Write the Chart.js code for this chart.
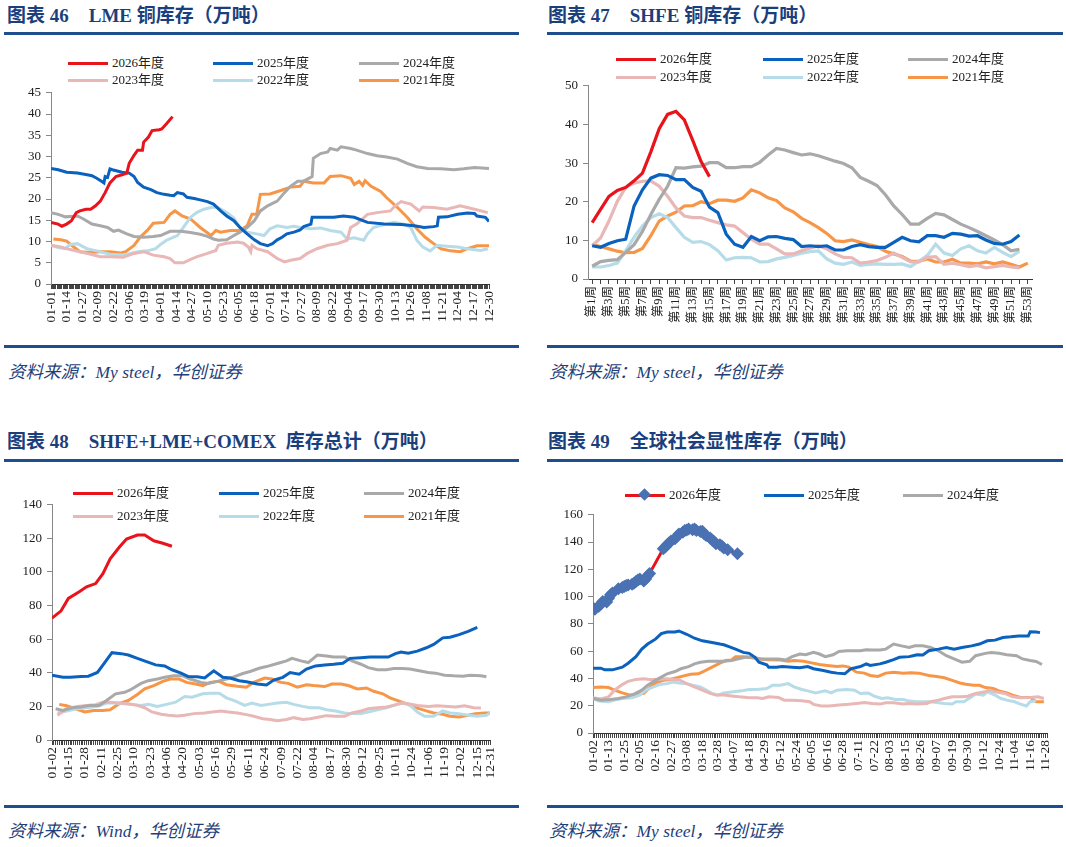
<!DOCTYPE html>
<html lang="zh">
<head>
<meta charset="UTF-8">
<title>铜库存</title>
<script src="https://cdn.jsdelivr.net/npm/chart.js"></script>
<style>
    body { margin: 0; width: 1066px; height: 847px; position: relative; overflow: hidden; background: #fff;
           font-family: "Liberation Serif", "Noto Sans CJK SC", serif; }
    .title { position: absolute; font-weight: bold; font-size: 19px; line-height: 24px; color: #1b3f7d; white-space: nowrap; }
    .title .gap { display: inline-block; width: 20px; }
    .rule { position: absolute; height: 2.5px; background: #1f4e8e; }
    .src { position: absolute; font-style: italic; font-size: 17.5px; line-height: 22px; color: #1f3f7a; white-space: nowrap; }
    .item { position: absolute; display: flex; align-items: center; font-size: 13px; line-height: 16px; color: #222; white-space: nowrap; z-index: 2; }
    .swatch { width: 40px; height: 3px; margin-right: 4px; position: relative; }
    .swatch .dia { position: absolute; left: 15px; top: -4px; width: 9px; height: 9px; transform: rotate(45deg); }
    canvas { position: absolute; }
</style>
</head>
<body>

<div class="title" style="left:7px; top:4px;">图表 46<span class="gap"></span>LME 铜库存（万吨）</div>
<div class="rule" style="left:4px; top:32px; width:515px;"></div>
<div class="title" style="left:548px; top:4px;">图表 47<span class="gap"></span>SHFE 铜库存（万吨）</div>
<div class="rule" style="left:547px; top:32px; width:516px;"></div>
<div class="rule" style="left:4px; top:345px; width:515px;"></div>
<div class="rule" style="left:547px; top:345px; width:516px;"></div>
<div class="src" style="left:8px; top:361px;">资料来源：My steel，华创证券</div>
<div class="src" style="left:549px; top:361px;">资料来源：My steel，华创证券</div>

<div class="title" style="left:7px; top:430px;">图表 48<span class="gap"></span>SHFE+LME+COMEX&nbsp; 库存总计（万吨）</div>
<div class="rule" style="left:4px; top:459px; width:515px;"></div>
<div class="title" style="left:548px; top:430px;">图表 49<span class="gap"></span>全球社会显性库存（万吨）</div>
<div class="rule" style="left:547px; top:459px; width:516px;"></div>
<div class="rule" style="left:4px; top:805px; width:515px;"></div>
<div class="rule" style="left:547px; top:805px; width:516px;"></div>
<div class="src" style="left:8px; top:820px;">资料来源：Wind，华创证券</div>
<div class="src" style="left:549px; top:820px;">资料来源：My steel，华创证券</div>

<canvas id="lmeChart" width="530" height="260" style="left:0; top:80px;"></canvas>
<canvas id="shfeChart" width="526" height="267" style="left:540px; top:73px;"></canvas>
<canvas id="totalChart" width="530" height="304" style="left:0; top:492px;"></canvas>
<canvas id="globalChart" width="526" height="294" style="left:540px; top:502px;"></canvas>

<script>
    // ---- Data (x = trading-day / calendar-day index, y = 万吨) ----
    const seriesNames = ['2026年度', '2025年度', '2024年度', '2023年度', '2022年度', '2021年度'];

    // Figure 46: LME, calendar days, label every 13 days
    const lmeTickLabels = ['01-01','01-14','01-27','02-09','02-22','03-06','03-19','04-01','04-14','04-27','05-10','05-23','06-05','06-18','07-01','07-14','07-27','08-09','08-22','09-04','09-17','09-30','10-13','10-26','11-08','11-21','12-04','12-17','12-30'];
    const lme2026 = [[0,14.5],[6,14.1],[9,13.6],[13,14.1],[17,14.9],[21,16.8],[24,17.2],[29,17.6],[33,17.6],[37,18.4],[41,19.5],[45,21.5],[49,23.8],[54,25.3],[59,25.7],[63,26.1],[65,28.4],[69,30.3],[72,31.5],[76,31.5],[77,33.4],[81,34.6],[84,36.1],[90,36.3],[92,36.5],[96,37.7],[101,39.4]];
    const lme2025 = [[0,27.2],[6,26.9],[13,26.3],[22,26.1],[30,25.7],[34,25.5],[38,24.9],[42,24.2],[44,23.8],[45,25.3],[47,25.1],[49,27.1],[51,26.9],[55,26.6],[59,26.3],[65,26.1],[69,25.3],[72,23.9],[77,22.8],[83,22.2],[88,21.5],[94,21.1],[99,20.9],[102,20.8],[105,21.5],[110,21.2],[113,20.4],[119,20.1],[124,19.8],[130,19.4],[135,18.8],[141,17.2],[146,16.0],[152,14.9],[157,13.3],[163,11.8],[169,10.4],[174,9.5],[180,9.0],[184,9.5],[188,10.4],[192,11.0],[196,11.8],[202,12.2],[207,12.7],[210,13.5],[216,14.1],[217,15.7],[224,15.7],[235,15.7],[243,16.0],[252,15.7],[263,14.5],[277,14.1],[291,14.0],[302,13.7],[310,13.3],[318,13.5],[321,13.7],[322,15.7],[329,15.8],[338,16.4],[346,16.7],[352,16.6],[354,16.0],[361,15.7],[364,14.7]];
    const lme2024 = [[0,16.8],[6,16.4],[12,15.8],[22,16.0],[27,15.3],[34,14.1],[41,13.7],[47,13.3],[52,12.4],[56,12.7],[63,11.8],[69,11.2],[77,11.0],[85,11.2],[91,11.4],[99,12.4],[108,12.4],[116,12.1],[124,11.7],[130,11.2],[135,10.6],[139,10.3],[146,10.4],[152,11.4],[157,12.2],[163,13.3],[169,14.9],[174,17.2],[180,18.4],[188,19.5],[194,21.5],[199,23.0],[205,24.2],[210,24.2],[217,25.3],[218,29.6],[224,30.7],[230,31.1],[232,31.9],[238,31.5],[241,32.3],[249,31.9],[254,31.5],[263,30.7],[271,30.2],[279,29.9],[288,29.4],[296,28.4],[304,27.6],[313,27.2],[324,27.1],[335,26.9],[343,27.1],[352,27.4],[364,27.2]];
    const lme2023 = [[0,9.1],[8,8.7],[16,8.1],[24,7.6],[33,7.0],[41,6.4],[49,6.4],[60,6.3],[69,7.2],[77,7.6],[85,6.8],[94,6.4],[99,6.0],[103,5.0],[110,5.0],[116,5.8],[121,6.4],[130,7.2],[137,7.9],[139,9.1],[146,9.6],[155,9.9],[160,9.6],[164,8.7],[166,7.6],[167,9.1],[171,8.3],[180,7.6],[188,6.0],[194,5.2],[199,5.6],[207,6.0],[213,7.2],[221,8.3],[230,9.1],[238,9.5],[246,10.3],[249,13.3],[254,14.1],[263,16.4],[271,16.8],[282,17.2],[286,18.4],[291,19.4],[299,18.8],[306,17.2],[309,18.1],[318,18.0],[329,17.6],[340,18.4],[352,17.6],[363,16.8]];
    const lme2022 = [[0,9.1],[6,8.6],[12,8.3],[16,9.3],[22,9.5],[30,8.3],[38,7.8],[49,7.0],[60,6.8],[72,7.6],[80,7.8],[87,8.3],[91,9.3],[96,10.3],[105,11.4],[110,13.3],[116,15.7],[121,16.8],[127,17.6],[133,18.0],[138,18.1],[146,16.8],[152,15.5],[157,13.3],[163,12.2],[171,11.8],[177,11.4],[182,13.0],[188,13.7],[196,13.3],[202,13.6],[207,13.3],[216,13.0],[224,13.2],[232,12.6],[241,12.2],[246,10.6],[252,10.9],[260,10.3],[263,11.8],[268,13.3],[277,14.0],[285,14.5],[293,14.1],[299,13.3],[304,10.3],[309,8.7],[315,7.8],[321,9.1],[329,8.9],[338,8.7],[346,8.3],[357,7.9],[363,8.3]];
    const lme2021 = [[2,10.6],[8,10.4],[13,10.1],[19,8.7],[24,7.6],[33,7.4],[41,7.6],[49,7.6],[58,7.3],[62,7.6],[69,9.1],[74,11.0],[80,12.6],[85,14.3],[94,14.5],[99,16.4],[103,17.2],[109,16.0],[116,15.3],[124,13.3],[133,11.4],[137,12.6],[141,12.2],[149,12.6],[157,12.6],[163,13.7],[167,16.4],[171,16.4],[174,21.1],[182,21.2],[191,22.0],[199,22.8],[207,23.0],[210,24.2],[218,23.8],[227,23.8],[232,25.3],[241,25.5],[249,24.9],[252,23.4],[256,24.2],[259,23.2],[261,24.3],[266,23.0],[274,21.8],[279,20.3],[288,18.0],[296,15.7],[304,13.0],[311,11.0],[318,9.5],[324,8.3],[332,7.8],[340,7.6],[346,8.3],[354,9.0],[364,9.0]];

    // Figure 47: SHFE, weekly
    const weekLabels = Array.from({ length: 53 }, (_, i) => '第' + (i + 1) + '周');
    const shfe2026 = [14.6,18.0,21.4,22.9,23.7,25.4,27.4,32.9,38.9,42.6,43.4,41.2,35.9,30.4,26.5];
    const shfe2025 = [8.6,8.2,9.2,9.9,10.3,18.9,23.1,26.1,27.0,26.8,25.7,25.7,23.7,22.7,18.6,17.2,11.6,9.0,8.2,11.0,9.9,10.9,11.0,10.5,10.2,8.4,8.6,8.4,8.6,7.5,7.5,8.4,8.9,8.4,8.2,8.2,9.5,10.8,9.9,9.6,11.2,11.2,10.8,11.8,11.6,11.1,11.2,10.1,9.2,9.0,9.7,11.4];
    const shfe2024 = [3.3,4.5,4.8,5.0,6.9,8.9,12.3,16.7,20.6,24.0,28.8,28.7,29.0,29.2,30.1,30.1,28.8,28.8,29.1,29.1,30.2,32.1,33.8,33.4,32.7,32.1,32.4,31.9,31.2,30.5,29.9,28.8,26.3,25.3,24.2,21.8,18.9,16.7,14.2,14.2,15.7,17.0,16.6,15.4,14.2,13.3,12.3,11.2,10.1,8.9,7.3,7.7];
    const shfe2023 = [8.6,10.6,15.0,20.1,23.7,24.8,25.3,25.4,24.0,21.4,18.4,16.3,15.9,15.9,15.2,14.6,14.0,13.7,12.0,10.3,9.0,9.0,7.8,6.5,6.5,7.3,8.0,8.6,7.8,6.5,5.6,5.5,4.1,4.4,4.8,5.6,6.7,5.6,4.4,4.4,5.6,5.8,3.8,4.1,3.7,3.2,3.5,2.9,3.2,3.5,3.1,2.9];
    const shfe2022 = [3.1,3.1,3.5,4.1,7.3,10.8,13.7,15.9,16.9,15.9,13.3,10.8,9.5,9.7,8.9,7.3,4.9,5.5,5.6,5.5,4.4,4.5,5.2,5.6,6.1,6.7,7.1,7.3,5.2,4.1,3.8,4.4,3.5,3.8,3.9,3.8,3.8,3.9,3.2,4.6,6.1,9.0,6.7,6.1,7.8,8.6,7.3,6.7,8.2,6.9,5.8,7.2];
    const shfe2021 = [8.9,8.4,7.8,7.2,6.8,6.9,7.9,11.2,15.0,16.3,17.3,18.9,19.0,20.0,19.5,20.4,20.4,20.1,21.0,23.1,22.3,21.0,20.3,18.4,17.4,15.7,14.6,13.3,11.8,9.9,9.7,10.1,9.5,8.9,8.4,7.2,6.5,5.8,4.6,4.6,5.2,4.4,4.4,5.1,4.1,4.1,3.9,4.4,3.9,4.4,3.8,3.1,4.1];

    // Figure 48: SHFE+LME+COMEX, trading days, label every 9 days (last one is 12-31)
    const totTickLabels = ['01-02','01-15','01-28','02-11','02-25','03-10','03-23','04-06','04-20','05-03','05-16','05-29','06-11','06-24','07-09','07-22','08-04','08-17','08-30','09-12','09-25','10-11','10-24','11-06','11-19','12-02','12-15','12-31'];
    const tot2026 = [[0,72.5],[5,76.9],[9,84.3],[15,88.2],[19,91.2],[24,93.1],[28,99.0],[32,107.8],[37,114.7],[41,119.6],[47,122.0],[51,122.0],[56,118.6],[61,117.1],[66,115.3]];
    const tot2025 = [[0,38.6],[6,37.3],[10,37.3],[16,37.8],[20,38.0],[25,40.2],[29,46.1],[33,52.0],[38,51.4],[42,50.6],[47,48.6],[52,46.7],[57,44.7],[62,44.1],[66,41.8],[71,39.8],[75,37.8],[80,37.6],[84,36.9],[89,41.2],[94,37.3],[98,36.9],[103,35.3],[107,34.7],[113,33.3],[118,32.7],[122,35.7],[127,37.3],[131,40.2],[136,39.2],[140,42.2],[145,44.1],[150,44.7],[155,45.1],[160,45.7],[164,48.6],[170,49.0],[175,49.4],[180,49.4],[185,49.4],[189,51.4],[192,52.4],[196,51.6],[201,52.9],[206,54.9],[210,56.9],[215,60.8],[219,61.2],[224,62.7],[229,64.7],[234,67.1]];
    const tot2024 = [[2,18.6],[6,17.6],[11,19.2],[16,19.6],[21,20.6],[26,20.6],[30,23.5],[35,27.5],[40,28.4],[43,29.8],[49,33.7],[53,35.3],[58,36.3],[62,37.3],[67,38.2],[72,38.2],[76,36.3],[82,34.3],[86,33.7],[91,34.9],[96,36.3],[100,37.6],[105,39.6],[109,40.8],[114,42.7],[118,43.7],[124,45.5],[129,47.1],[132,48.6],[137,47.1],[141,46.1],[146,50.6],[151,50.0],[155,49.4],[161,49.4],[165,47.1],[170,45.1],[174,43.1],[179,41.8],[184,41.8],[188,42.5],[193,42.5],[197,42.2],[202,41.2],[207,40.2],[211,39.8],[216,38.6],[221,38.2],[226,38.0],[230,38.6],[236,38.2],[239,37.6]];
    const tot2023 = [[3,14.7],[8,18.6],[14,20.0],[19,20.6],[24,21.0],[28,22.5],[32,22.5],[37,22.0],[42,21.6],[47,20.6],[51,19.2],[55,16.7],[60,15.3],[64,14.7],[69,14.3],[73,14.7],[78,15.7],[84,16.1],[88,16.7],[93,17.3],[97,16.7],[102,16.1],[107,15.1],[111,14.1],[116,12.7],[120,12.2],[124,11.4],[129,12.2],[133,13.3],[138,12.2],[142,12.7],[147,13.7],[151,14.5],[156,14.1],[161,14.1],[165,16.1],[170,17.3],[174,18.6],[179,19.2],[184,19.6],[188,20.6],[192,22.0],[196,21.6],[201,20.6],[207,20.0],[212,20.4],[218,20.0],[222,19.6],[227,20.4],[232,19.2],[236,19.0]];
    const tot2022 = [[3,16.1],[8,17.3],[14,18.6],[19,19.2],[25,20.0],[30,22.0],[35,22.0],[40,21.6],[44,21.2],[49,20.6],[53,21.2],[58,20.0],[63,21.2],[68,22.5],[73,25.9],[77,25.5],[83,27.5],[87,27.8],[92,27.8],[96,25.1],[101,23.1],[106,20.6],[110,22.0],[115,20.6],[119,21.2],[124,22.0],[129,22.4],[133,21.2],[138,20.0],[142,19.2],[147,19.2],[151,18.0],[156,17.3],[161,16.1],[165,15.7],[170,15.7],[174,16.7],[179,18.0],[184,19.2],[188,20.6],[193,22.0],[197,20.6],[201,16.7],[205,14.1],[210,14.1],[215,17.3],[219,16.1],[224,15.7],[229,14.7],[234,14.1],[239,14.7],[241,16.1]];
    const tot2021 = [[4,21.2],[8,20.4],[13,18.6],[18,16.7],[23,17.6],[28,17.6],[32,18.0],[37,21.6],[42,23.5],[47,27.1],[51,30.4],[56,32.4],[61,34.9],[65,36.3],[70,36.3],[74,34.3],[79,33.3],[83,32.4],[87,34.3],[92,34.9],[96,32.9],[102,32.0],[107,31.4],[111,34.3],[117,36.9],[121,36.3],[126,34.3],[130,33.7],[135,31.4],[140,32.9],[144,32.4],[150,31.8],[154,33.3],[159,33.3],[163,32.4],[168,30.4],[173,31.0],[177,29.0],[182,27.5],[186,25.1],[191,23.1],[196,21.2],[201,19.0],[206,17.3],[210,16.1],[215,15.3],[219,14.1],[224,13.7],[229,14.7],[233,15.7],[238,16.1],[241,16.1]];

    // Figure 49: global visible stocks, trading days, label every 8 days
    const glbTickLabels = ['01-02','01-13','01-25','02-05','02-16','02-27','03-08','03-18','03-28','04-07','04-18','04-29','05-12','05-24','06-05','06-16','06-28','07-11','07-22','08-03','08-15','08-26','09-07','09-19','09-30','10-12','10-24','11-04','11-16','11-28'];
    const glb2026 = [[0,91.7],[1,90.8],[3,92.9],[4,94.6],[5,96.5],[7,96.0],[8,98.9],[9,101.4],[10,102.6],[13,105.7],[15,106.7],[16,107.4],[17,108.1],[18,108.6],[20,109.1],[21,109.8],[22,111.0],[23,112.2],[24,112.9],[26,111.5],[27,112.9],[28,115.3],[29,117.0],[36,135.1],[37,136.3],[38,138.0],[39,139.5],[40,140.7],[42,142.4],[43,144.1],[44,146.0],[46,147.2],[47,148.4],[48,148.9],[49,149.6],[51,149.1],[52,149.6],[53,148.4],[55,147.7],[56,147.9],[57,146.0],[58,144.8],[60,142.9],[61,141.6],[62,140.4],[63,138.8],[65,138.0],[66,137.1],[67,135.6],[69,134.4],[74,131.5]];
    const glb2025 = [[0,47.5],[4,47.5],[6,46.3],[10,46.3],[15,48.3],[18,51.2],[22,56.0],[25,61.5],[28,65.2],[32,68.8],[35,72.9],[38,74.1],[42,74.1],[44,74.8],[48,72.4],[52,69.5],[56,67.6],[61,66.4],[65,65.2],[67,64.7],[70,63.2],[73,61.5],[77,59.1],[80,58.4],[83,55.5],[85,51.9],[89,50.0],[90,48.3],[94,48.3],[97,48.7],[102,48.3],[106,47.8],[110,48.7],[113,47.1],[118,45.8],[122,44.6],[125,43.9],[129,43.4],[132,47.1],[137,48.7],[140,50.7],[142,49.5],[147,50.7],[150,51.9],[154,53.8],[157,55.5],[162,56.0],[164,56.7],[166,57.4],[169,57.2],[172,60.3],[177,61.5],[181,62.7],[185,61.5],[189,62.7],[194,63.9],[198,65.2],[202,67.6],[206,68.1],[210,70.0],[214,70.5],[218,71.2],[223,71.2],[224,74.3],[227,74.1],[229,73.6]];
    const glb2024 = [[0,25.3],[4,24.1],[9,24.6],[13,25.3],[17,26.5],[21,28.5],[25,31.4],[28,35.0],[32,38.6],[35,41.0],[38,43.4],[42,45.1],[45,47.1],[49,48.7],[52,50.7],[55,51.9],[59,52.6],[62,52.6],[67,52.6],[71,53.1],[74,54.3],[78,55.5],[82,55.5],[86,54.3],[90,54.3],[95,54.3],[99,53.6],[102,56.0],[106,57.9],[109,57.4],[113,59.1],[116,57.9],[119,56.0],[123,57.4],[126,59.8],[130,60.3],[133,60.3],[137,60.3],[140,61.1],[143,60.8],[147,60.8],[150,61.5],[154,65.2],[158,63.9],[162,62.7],[165,63.9],[169,63.9],[173,62.7],[177,60.3],[181,56.7],[185,54.3],[189,51.9],[193,52.6],[196,56.7],[201,58.4],[204,59.1],[208,58.4],[212,57.4],[217,56.7],[220,54.3],[224,53.1],[227,52.4],[230,50.2]];
    const glb2023 = [[0,25.8],[4,24.9],[8,26.5],[11,31.4],[15,35.5],[18,37.9],[22,39.3],[26,39.8],[29,39.3],[33,39.3],[38,39.8],[41,39.3],[44,39.1],[48,36.2],[52,33.8],[56,31.4],[60,29.0],[63,27.8],[67,27.8],[72,27.0],[75,26.5],[79,26.1],[84,25.8],[87,25.3],[90,26.5],[95,26.1],[98,24.1],[102,24.1],[107,23.6],[111,22.9],[113,21.0],[117,19.8],[121,19.8],[126,20.5],[131,21.0],[135,21.7],[139,22.4],[143,21.7],[147,21.2],[150,22.2],[154,22.2],[159,21.2],[162,21.7],[166,21.2],[171,21.7],[173,22.9],[177,24.1],[180,25.3],[184,26.5],[189,26.5],[192,27.0],[196,29.0],[201,30.2],[203,31.4],[206,30.2],[211,29.0],[215,26.5],[219,25.8],[224,26.1],[228,26.5],[231,25.3]];
    const glb2022 = [[0,25.3],[3,23.4],[8,22.9],[11,24.1],[15,25.3],[20,25.8],[24,27.8],[27,31.4],[31,33.8],[34,35.5],[38,36.2],[41,37.4],[44,36.7],[48,36.2],[51,35.0],[55,33.8],[58,31.4],[61,29.0],[64,27.8],[67,29.4],[72,30.2],[76,30.9],[80,31.9],[84,31.9],[89,32.6],[92,35.0],[96,35.0],[100,36.2],[103,33.8],[107,31.9],[110,30.9],[114,29.4],[119,30.9],[122,29.4],[125,31.4],[130,31.9],[134,31.4],[137,29.0],[141,29.4],[144,27.0],[148,25.3],[151,25.8],[155,24.6],[159,24.6],[162,23.4],[166,22.9],[170,22.9],[173,22.9],[177,22.2],[180,21.7],[184,21.2],[186,22.9],[190,22.9],[194,26.5],[196,28.5],[200,27.8],[202,30.2],[206,27.8],[209,25.3],[212,24.1],[216,22.9],[219,21.2],[222,19.8],[224,22.9],[227,23.6]];
    const glb2021 = [[0,33.3],[4,33.8],[8,33.3],[11,31.4],[15,29.4],[19,27.8],[22,28.2],[26,29.0],[29,33.3],[32,36.7],[36,38.6],[39,39.1],[43,40.5],[46,41.7],[50,43.0],[54,43.4],[57,45.4],[61,48.3],[65,51.2],[68,53.1],[71,53.6],[73,56.0],[77,56.0],[80,55.5],[85,54.3],[90,53.8],[96,53.6],[100,52.6],[103,53.1],[108,52.6],[112,51.4],[116,50.2],[120,49.5],[125,48.7],[128,49.2],[131,48.3],[135,44.6],[139,43.9],[142,42.2],[146,41.5],[150,43.9],[154,44.6],[159,43.9],[163,44.2],[167,43.9],[172,42.2],[176,41.5],[180,40.5],[184,38.6],[188,36.7],[191,35.7],[195,35.0],[198,35.0],[201,33.3],[205,32.6],[208,30.9],[212,29.4],[215,27.8],[219,26.1],[224,26.1],[227,22.9],[231,22.9]];

    // ---- Styling ----
    const colors = ['#e8131b', '#0a62be', '#a9a9a9', '#e8b7b6', '#b5dce8', '#f79646'];
    const markerBlue = '#4a72b2';

    Chart.defaults.font.family = '"Liberation Serif", "Noto Sans CJK SC", serif';
    Chart.defaults.font.size = 13;
    Chart.defaults.color = '#222';

    const pts = arr => arr.map(p => ({ x: p[0], y: p[1] }));

    function lineSet(i, data, width) {
        return {
            label: seriesNames[i], data: data, borderColor: colors[i], backgroundColor: colors[i],
            borderWidth: width || 3, pointRadius: 0, tension: 0, fill: false
        };
    }

    function yAxis(max, step, width) {
        return {
            min: 0, max: max,
            afterFit: s => { s.width = width; },
            grid: { drawOnChartArea: false, tickLength: 5, color: '#888' },
            border: { color: '#888' },
            ticks: { stepSize: step, padding: 5, color: '#222' }
        };
    }

    function dayAxis(max, positions, labels, height) {
        const names = {};
        positions.forEach((p, i) => { names[p] = labels[i]; });
        return {
            type: 'linear', min: 0, max: max, offset: false,
            afterBuildTicks: s => {
                const t = [];
                for (let i = 0; i <= max; i++) t.push({ value: i });
                s.ticks = t;
            },
            afterFit: s => { s.height = height; },
            grid: { drawOnChartArea: false, tickLength: 5, color: '#444' },
            border: { color: '#333' },
            ticks: { autoSkip: false, minRotation: 90, maxRotation: 90, padding: 2, font: { size: 13.5 }, callback: v => names[v] || '' }
        };
    }

    function baseOptions(scales, padding) {
        return {
            responsive: false, animation: false, devicePixelRatio: 1,
            layout: { padding: padding },
            plugins: { legend: { display: false }, tooltip: { enabled: false } },
            scales: scales
        };
    }

    // Figure 46
    new Chart(document.getElementById('lmeChart'), {
        type: 'line',
        data: { datasets: [lme2026, lme2025, lme2024, lme2023, lme2022, lme2021].map((d, i) => lineSet(i, pts(d))) },
        options: baseOptions({
            x: dayAxis(364, lmeTickLabels.map((_, i) => i * 13), lmeTickLabels, 56),
            y: yAxis(45, 5, 51)
        }, { top: 10, right: 41, bottom: 0, left: 0 })
    });

    // Figure 47
    new Chart(document.getElementById('shfeChart'), {
        type: 'line',
        data: {
            labels: weekLabels,
            datasets: [shfe2026, shfe2025, shfe2024, shfe2023, shfe2022, shfe2021].map((d, i) => lineSet(i, d, 3.2))
        },
        options: baseOptions({
            x: {
                type: 'category', offset: true,
                afterFit: s => { s.height = 61; },
                grid: { drawOnChartArea: false, tickLength: 5, color: '#444' },
                border: { color: '#333' },
                ticks: { autoSkip: false, minRotation: 90, maxRotation: 90, padding: 2, font: { size: 12.5 },
                         callback: (v, i) => i % 2 === 0 ? weekLabels[i] : '' }
            },
            y: yAxis(50, 10, 48)
        }, { top: 10, right: 34, bottom: 0, left: 0 })
    });

    // Figure 48
    new Chart(document.getElementById('totalChart'), {
        type: 'line',
        data: { datasets: [tot2026, tot2025, tot2024, tot2023, tot2022, tot2021].map((d, i) => lineSet(i, pts(d))) },
        options: baseOptions({
            x: dayAxis(241, totTickLabels.map((_, i) => i < 27 ? i * 9 : 241), totTickLabels, 56),
            y: yAxis(140, 20, 52)
        }, { top: 10, right: 40, bottom: 0, left: 0 })
    });

    // Figure 49
    const glbSets = [glb2026, glb2025, glb2024, glb2023, glb2022, glb2021].map((d, i) => lineSet(i, pts(d)));
    Object.assign(glbSets[0], {
        pointStyle: 'rectRot', pointRadius: 6.5, pointBackgroundColor: markerBlue,
        pointBorderColor: markerBlue, pointBorderWidth: 0
    });
    new Chart(document.getElementById('globalChart'), {
        type: 'line',
        data: { datasets: glbSets },
        options: baseOptions({
            x: dayAxis(233, glbTickLabels.map((_, i) => i * 8), glbTickLabels, 63),
            y: yAxis(160, 20, 53)
        }, { top: 10, right: 18, bottom: 0, left: 0 })
    });

    // ---- HTML legends ----
    function legend(cols, rows, count, withMarker) {
        for (let i = 0; i < count; i++) {
            const item = document.createElement('div');
            item.className = 'item';
            item.style.left = cols[i % 3] + 'px';
            item.style.top = (rows[Math.floor(i / 3)] - 8) + 'px';
            const sw = document.createElement('div');
            sw.className = 'swatch';
            sw.style.background = colors[i];
            if (withMarker && i === 0) {
                const d = document.createElement('div');
                d.className = 'dia';
                d.style.background = markerBlue;
                sw.appendChild(d);
            }
            item.appendChild(sw);
            item.appendChild(document.createTextNode(seriesNames[i]));
            document.body.appendChild(item);
        }
    }
    legend([68, 213, 359], [63, 80], 6, false);
    legend([616, 763, 908], [59, 77], 6, false);
    legend([73, 219, 364], [493, 516], 6, false);
    legend([625, 764, 903], [495], 3, true);
</script>
</body>
</html>
